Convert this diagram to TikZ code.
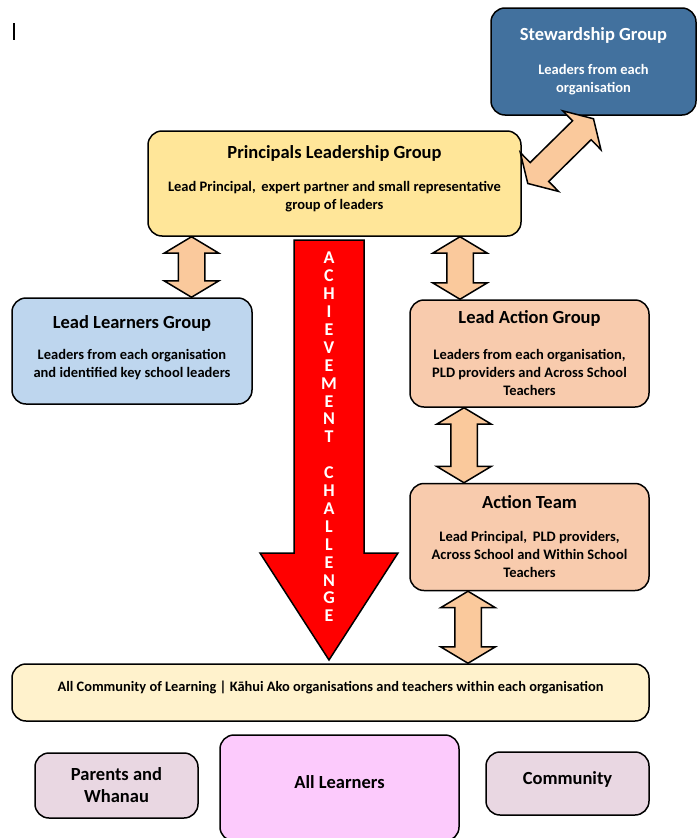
\documentclass[tikz,border=0pt]{standalone}
\usepackage{fontspec}
\setmainfont{Carlito}
\usetikzlibrary{calc,positioning,shapes.arrows}

\definecolor{stewblue}{RGB}{66,113,158}
\definecolor{plgold}{RGB}{255,230,153}
\definecolor{llblue}{RGB}{190,214,238}
\definecolor{peach}{RGB}{248,203,173}
\definecolor{barcream}{RGB}{255,242,204}
\definecolor{mauve}{RGB}{233,215,226}
\definecolor{learnpink}{RGB}{252,202,252}
\definecolor{arrowpeach}{RGB}{250,201,156}

\newcommand{\tf}{\fontsize{18.5}{18}\selectfont}

\begin{document}
\begin{tikzpicture}[
  x=1pt, y=-1pt,
  every node/.style={font=\bfseries\fontsize{14.5}{18}\selectfont},
  grp/.style={draw, line width=1.5pt, rounded corners=14pt, align=center, inner sep=0pt},
  big/.style={font=\bfseries\fontsize{18.5}{22}\selectfont},
  fat/.style={to path={
    let \p1=(\tikztostart), \p2=(\tikztotarget),
        \n1={veclen(\x2-\x1,\y2-\y1)}, \n2={atan2(\y2-\y1,\x2-\x1)} in
    node[double arrow, draw, line width=1.5pt, fill=arrowpeach,
         minimum height=\n1, inner xsep=0pt, inner ysep=12.5pt,
         double arrow head extend=14pt, double arrow tip angle=118,
         rotate=\n2] at ($(\tikztostart)!.5!(\tikztotarget)$) {}}},
  achieve/.style={draw, line width=1.5pt, fill=red}
]
  \useasboundingbox (0,0) rectangle (697,838);

  \node[fill=black, minimum width=2pt, minimum height=17pt, inner sep=0pt] (cursor) at (14,31.5) {};

  % leadership boxes
  \node[grp, fill=stewblue, text=white, minimum width=205pt, minimum height=107pt] (sg) at (593.5,61.5)
    {\tf Stewardship Group\\[16pt] Leaders from each\\ organisation};
  \node[grp, fill=plgold, minimum width=373pt, minimum height=105pt] (plg) at (334.5,183.5)
    {\tf Principals Leadership Group\\[14.5pt] Lead Principal,\, expert partner and small representative\\ group of leaders\\[-6pt]};
  \node[grp, fill=llblue, minimum width=240pt, minimum height=106pt] (llg) at (132,351)
    {\tf Lead Learners Group\\[13pt] Leaders from each organisation\\ and identified key school leaders\\[-9pt]};
  \node[grp, fill=peach, minimum width=239pt, minimum height=107pt] (lag) at (529.5,353.5)
    {\tf Lead Action Group\\[18pt] Leaders from each organisation,\\ PLD providers and Across School\\ Teachers};
  \node[grp, fill=peach, minimum width=239pt, minimum height=107pt, below=75pt of lag] (at)
    {\tf Action Team\\[15pt] Lead Principal,\, PLD providers,\\ Across School and Within School\\ Teachers};

  % community and learners
  \node[grp, fill=barcream, minimum width=637pt, minimum height=57pt, font=\bfseries\fontsize{14.4}{18}\selectfont,
        text height=10.5pt, text depth=12.5pt] (col) at (330.5,692.5)
    {All Community of Learning | Kāhui Ako organisations and teachers within each organisation};
  \node[grp, big, fill=mauve, minimum width=163pt, minimum height=65pt] (pw) at (116.5,785.5)
    {Parents and\\ Whanau};
  \node[grp, big, fill=learnpink, minimum width=239pt, minimum height=106pt,
        text height=13pt, text depth=12pt] (al) at (339.5,788)
    {All Learners};
  \node[grp, big, fill=mauve, minimum width=163pt, minimum height=63pt,
        text height=13pt, text depth=12pt] (cm) at (567.5,783.5)
    {Community};

  % achievement challenge arrow
  \draw[achieve] (294,240) -- (364,240) -- (364,553) -- (398,553) -- (329,660)
    -- (260,553) -- (294,553) -- cycle;
  \node[text=white, align=center, inner sep=0pt, font=\bfseries\fontsize{18}{17.9}\selectfont] (ach) at (329,437)
    {A\\C\\H\\I\\E\\V\\E\\M\\E\\N\\T\\ \\C\\H\\A\\L\\L\\E\\N\\G\\E};

  % links between groups
  \coordinate (c1) at (191.5,0);
  \coordinate (c2) at (460,0);
  \coordinate (c3) at (464,0);
  \coordinate (c4) at (468,0);
  \path (plg.south -| c1) to[fat] (llg.north -| c1);
  \path (plg.south -| c2) to[fat] (lag.north -| c2);
  \path (lag.south -| c3) to[fat] (at.north -| c3);
  \path (at.south -| c4) to[fat] (col.north -| c4);
  \path ([xshift=6pt]plg.east) to[fat] ([yshift=-3pt]sg.south);
\end{tikzpicture}
\end{document}
